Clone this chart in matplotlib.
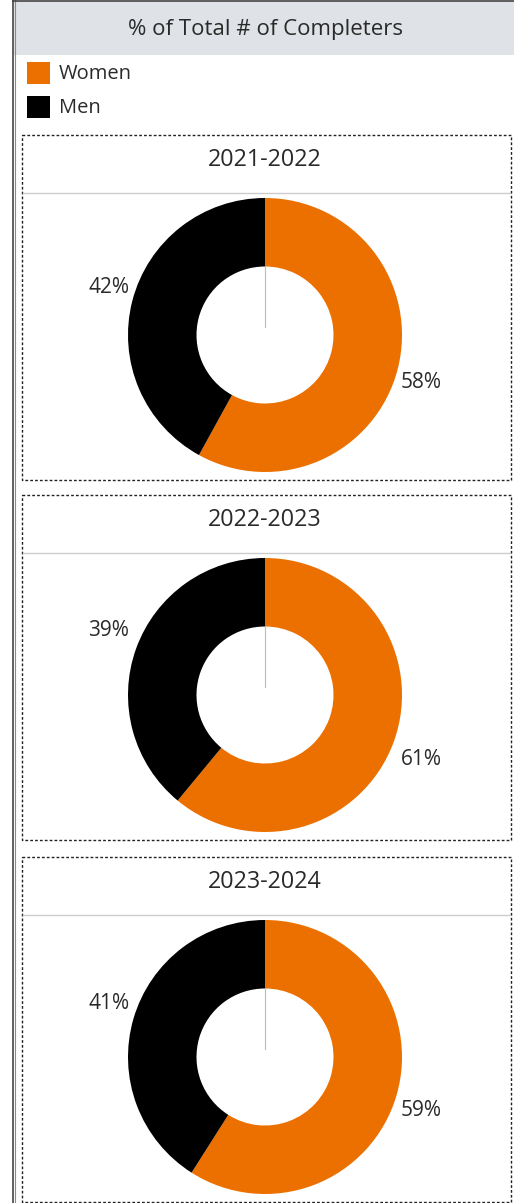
import math
import matplotlib
matplotlib.use("Agg")
import matplotlib.pyplot as plt
from matplotlib.patches import Rectangle

plt.rcParams['font.family'] = ['Open Sans', 'DejaVu Sans']

# data
years = ["2021-2022", "2022-2023", "2023-2024"]
women = [58, 61, 59]
men = [42, 39, 41]
series = ["Women", "Men"]
colors = ["#ec7000", "#000000"]

W, H = 514, 1203
txt = "#2a2a2a"
fig = plt.figure(figsize=(W / 100, H / 100), dpi=100)

# background axes in pixel coords (y down)
bg = fig.add_axes([0, 0, 1, 1])
bg.set_xlim(0, W)
bg.set_ylim(H, 0)
bg.axis("off")

# outer frame + header band
bg.add_patch(Rectangle((14, 1), W - 14, 54, facecolor="#dfe2e6", edgecolor="none"))
bg.plot([12.5, 12.5], [0, H], color="#444444", lw=1.2)
bg.plot([14.5, 14.5], [0, H], color="#888888", lw=0.8)
bg.plot([12.5, W], [0.5, 0.5], color="#444444", lw=1.2)
bg.text(265, 29, "% of Total # of Completers", ha="center", va="center",
        fontsize=16, color=txt)

# legend
for i, (name, c) in enumerate(zip(series, colors)):
    y0 = 62 + i * 34
    bg.add_patch(Rectangle((27, y0), 23, 22, facecolor=c, edgecolor="none"))
    bg.text(59, y0 + 12, name, ha="left", va="center", fontsize=14.5, color=txt)

# panels
panel_top = [135, 495, 857]
panel_h = 345
R = 137  # outer radius in px
pad = 1.3

for k, yr in enumerate(years):
    top = panel_top[k]
    bg.add_patch(Rectangle((22, top), 489, panel_h, facecolor="none",
                           edgecolor="#222222", lw=1, ls=(0, (2, 1.5))))
    bg.plot([23, 510], [top + 58, top + 58], color="#cccccc", lw=1)
    bg.text(265, top + 25, yr, ha="center", va="center", fontsize=16.8, color=txt)

    cx, cy = 265, top + 200
    half = R * pad
    ax = fig.add_axes([(cx - half) / W, (H - cy - half) / H, 2 * half / W, 2 * half / H])
    vals = [women[k], men[k]]
    wedges, _ = ax.pie(vals, colors=colors, startangle=90, counterclock=False,
                       wedgeprops=dict(width=0.5, linewidth=0), radius=1)
    ax.set_xlim(-pad, pad)
    ax.set_ylim(-pad, pad)
    ax.set_aspect("equal")
    ax.axis("off")
    ax.plot([0, 0], [0.5, 0.06], color="#bbbbbb", lw=0.8)

    for w, v in zip(wedges, vals):
        ang = math.radians((w.theta1 + w.theta2) / 2)
        xs = math.cos(ang)
        yy = math.sin(ang) * 1.4
        if xs >= 0:
            ax.text(0.99, yy, f"{v}%", ha="left", va="center", fontsize=15, color=txt)
        else:
            ax.text(-0.99, yy, f"{v}%", ha="right", va="center", fontsize=15, color=txt)

fig.savefig("out.png", dpi=100)
